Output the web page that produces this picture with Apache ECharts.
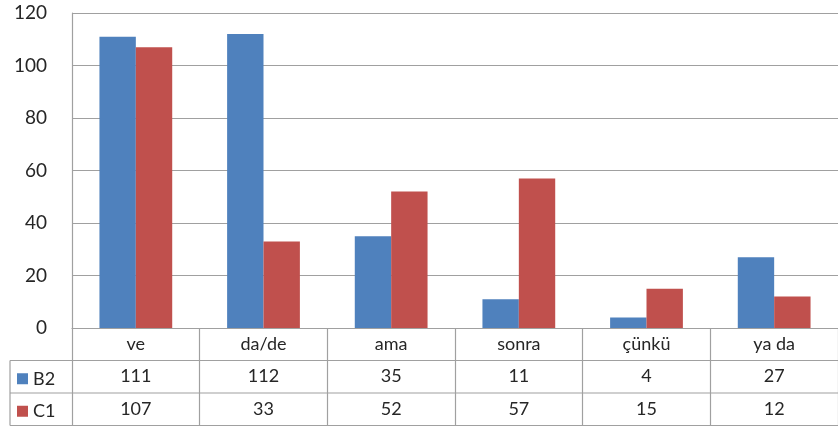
<!DOCTYPE html>
<html lang="tr">
<head>
    <meta charset="UTF-8">
    <title>Bağlaçlar</title>
    <script src="https://cdn.jsdelivr.net/npm/echarts@6/dist/echarts.min.js"></script>
    <style>
        html, body { margin: 0; padding: 0; background: #fff; }
    </style>
</head>
<body>
<div id="main" style="width: 838px;height:427px;"></div>
<script type="text/javascript">
    // veriler
    var categories = ['ve', 'da/de', 'ama', 'sonra', 'çünkü', 'ya da'];
    var seriesNames = ['B2', 'C1'];
    var b2 = [111, 112, 35, 11, 4, 27];
    var c1 = [107, 33, 52, 57, 15, 12];
    var yTicks = [0, 20, 40, 60, 80, 100, 120];

    var font = 'Lato, "Open Sans", sans-serif';
    var textColor = '#262626';
    var lineColor = '#a0a0a0';

    // yerleşim
    var gridLeft = 72, gridTop = 13, zeroY = 328;
    var rowH = 32.5;
    var tableLeft = 10;

    var myChart = echarts.init(document.getElementById('main'));

    function tableAxis(values, offset) {
        return {
            type: 'category',
            data: categories,
            position: 'bottom',
            offset: offset,
            axisLine: { show: false },
            axisTick: { show: false },
            splitLine: { show: false },
            axisLabel: {
                show: true,
                margin: 16,
                verticalAlign: 'middle',
                fontFamily: font,
                fontSize: 18,
                color: textColor,
                formatter: function (v, i) { return String(values[i]); }
            }
        };
    }

    function legendRow(name, row) {
        return {
            data: [name],
            left: 12,
            top: zeroY + rowH * (row + 0.5) - 12,
            icon: 'rect',
            itemWidth: 11,
            itemHeight: 11,
            itemGap: 4,
            textStyle: { fontFamily: font, fontSize: 18, color: textColor, lineHeight: 18 },
            selectedMode: false
        };
    }

    var hLines = [];
    [1, 2, 3].forEach(function (k) {
        hLines.push({
            type: 'line',
            shape: { x1: tableLeft, y1: zeroY + rowH * k, x2: 838, y2: zeroY + rowH * k },
            style: { stroke: lineColor, lineWidth: 1.2 }
        });
    });
    hLines.push({
        type: 'line',
        shape: { x1: tableLeft, y1: zeroY + rowH, x2: tableLeft, y2: zeroY + rowH * 3 },
        style: { stroke: lineColor, lineWidth: 1.2 }
    });

    var option = {
        animation: false,
        color: ['#4f81bd', '#c0504d'],
        grid: {
            left: gridLeft,
            right: -12,
            top: gridTop,
            bottom: 427 - zeroY
        },
        legend: [legendRow(seriesNames[0], 1), legendRow(seriesNames[1], 2)],
        xAxis: [{
            type: 'category',
            data: categories,
            axisLine: { show: true, lineStyle: { color: lineColor, width: 1.2 } },
            axisTick: { show: true, length: rowH * 3, lineStyle: { color: lineColor, width: 1.2 } },
            axisLabel: {
                margin: 16,
                verticalAlign: 'middle',
                fontFamily: font,
                fontSize: 18,
                color: textColor
            }
        },
            tableAxis(b2, rowH),
            tableAxis(c1, rowH * 2)
        ],
        yAxis: {
            type: 'value',
            min: yTicks[0],
            max: yTicks[yTicks.length - 1],
            interval: 20,
            axisLine: { show: true, lineStyle: { color: lineColor, width: 1.2 } },
            axisTick: { show: false },
            splitLine: { show: true, lineStyle: { color: lineColor, width: 1.2 } },
            axisLabel: {
                margin: 25,
                fontFamily: font,
                fontSize: 19,
                color: textColor
            }
        },
        graphic: hLines,
        series: [{
            name: seriesNames[0],
            type: 'bar',
            data: b2,
            barGap: '0%',
            barCategoryGap: '43%'
        }, {
            name: seriesNames[1],
            type: 'bar',
            data: c1,
            barGap: '0%',
            barCategoryGap: '43%'
        }]
    };

    myChart.setOption(option);
</script>
</body>
</html>
